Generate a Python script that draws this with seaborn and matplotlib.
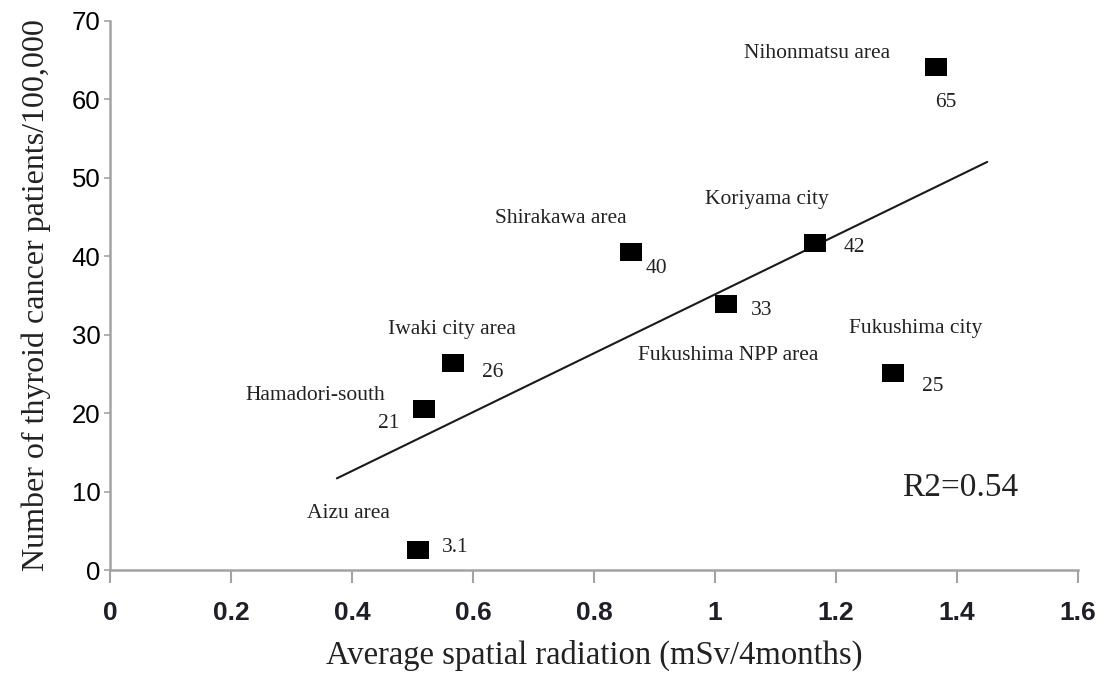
import matplotlib

matplotlib.use("Agg")
import matplotlib.pyplot as plt
import numpy as np
import pandas as pd
import seaborn as sns


AREAS = [
    "Nihonmatsu area",
    "Koriyama city",
    "Shirakawa area",
    "Fukushima NPP area",
    "Fukushima city",
    "Iwaki city area",
    "Hamadori-south",
    "Aizu area",
]
RADIATION = [1.365, 1.165, 0.861, 1.018, 1.294, 0.567, 0.519, 0.509]
PATIENTS = [64.1, 41.7, 40.6, 33.9, 25.1, 26.4, 20.5, 2.5]
VALUE_LABELS = ["65", "42", "40", "33", "25", "26", "21", "3.1"]
FIT_RANGE = [0.375, 1.45]
R2_TEXT = "R2=0.54"
X_TICKS = [0, 0.2, 0.4, 0.6, 0.8, 1.0, 1.2, 1.4, 1.6]
X_TICK_LABELS = ["0", "0.2", "0.4", "0.6", "0.8", "1", "1.2", "1.4", "1.6"]
Y_TICKS = [0, 10, 20, 30, 40, 50, 60, 70]

# label offsets from marker centre, in pixels
NAME_OFFSETS = {
    "Nihonmatsu area": (-119, 14),
    "Koriyama city": (-48, 43),
    "Shirakawa area": (-70, 33),
    "Fukushima NPP area": (2, -51),
    "Fukushima city": (23, 45),
    "Iwaki city area": (-1, 33),
    "Hamadori-south": (-109, 14),
    "Aizu area": (-70, 37),
}
VALUE_OFFSETS = {
    "Nihonmatsu area": (10, -35),
    "Koriyama city": (40, -5),
    "Shirakawa area": (26, -17),
    "Fukushima NPP area": (36, -6),
    "Fukushima city": (40, -13),
    "Iwaki city area": (40, -10),
    "Hamadori-south": (-35, -14),
    "Aizu area": (37, 3),
}

SERIF = "Liberation Serif"
SANS = "Liberation Sans"
AXIS_GREY = "#a3a3a3"

sns.set_style("white")
plt.rcParams["font.family"] = [SANS, "DejaVu Sans"]

df = pd.DataFrame({"area": AREAS, "radiation": RADIATION, "patients": PATIENTS})

slope, intercept = np.polyfit(df["radiation"], df["patients"], 1)
fit = pd.DataFrame({"radiation": FIT_RANGE})
fit["patients"] = slope * fit["radiation"] + intercept

fig = plt.figure(figsize=(11.04, 6.75), dpi=100)
ax = fig.add_axes([110 / 1104, 105 / 675, 968 / 1104, 549 / 675])

sns.lineplot(data=fit, x="radiation", y="patients", color="#1a1a1a", linewidth=1.5, ax=ax)
rect = [(-1.25, -1), (1.25, -1), (1.25, 1), (-1.25, 1)]
sns.scatterplot(
    data=df, x="radiation", y="patients", marker=rect, s=240,
    color="black", edgecolor="black", linewidth=0, zorder=5, ax=ax,
)

for area, xv, yv, val in zip(AREAS, RADIATION, PATIENTS, VALUE_LABELS):
    ax.annotate(area, (xv, yv), xytext=NAME_OFFSETS[area], textcoords="offset pixels",
                ha="center", va="center", fontsize=15.5, family=SERIF, color="#222222")
    ax.annotate(val, (xv, yv), xytext=VALUE_OFFSETS[area], textcoords="offset pixels",
                ha="center", va="center", fontsize=15.5, family=SERIF, color="#222222")

ax.text(0.878, 0.149, R2_TEXT, transform=ax.transAxes, ha="center", va="center",
        fontsize=24, family=SERIF, color="#222222")

ax.set_xlim(0, 1.6)
ax.set_ylim(0, 70)
ax.set_xticks(X_TICKS)
ax.set_xticklabels(X_TICK_LABELS, fontsize=19, fontweight="bold", color="#1f1f28")
ax.set_yticks(Y_TICKS)
ax.set_yticklabels([str(v) for v in Y_TICKS], fontsize=18.5, color="black")
ax.tick_params(axis="x", direction="out", length=9, width=1.5, color=AXIS_GREY, pad=13, bottom=True)
ax.tick_params(axis="y", direction="out", length=4, width=1.2, color=AXIS_GREY, pad=3, left=True)

ax.set_xlabel("Average spatial radiation (mSv/4months)", fontsize=23.5, family=SERIF,
              color="#222222", labelpad=11)
ax.set_ylabel("Number of thyroid cancer patients/100,000", fontsize=23, family=SERIF,
              color="#222222", labelpad=15)

sns.despine(ax=ax)
for side in ["left", "bottom"]:
    ax.spines[side].set_color(AXIS_GREY)
    ax.spines[side].set_linewidth(1.8)
ax.grid(False)

fig.savefig("out.png", dpi=100)
plt.close(fig)
